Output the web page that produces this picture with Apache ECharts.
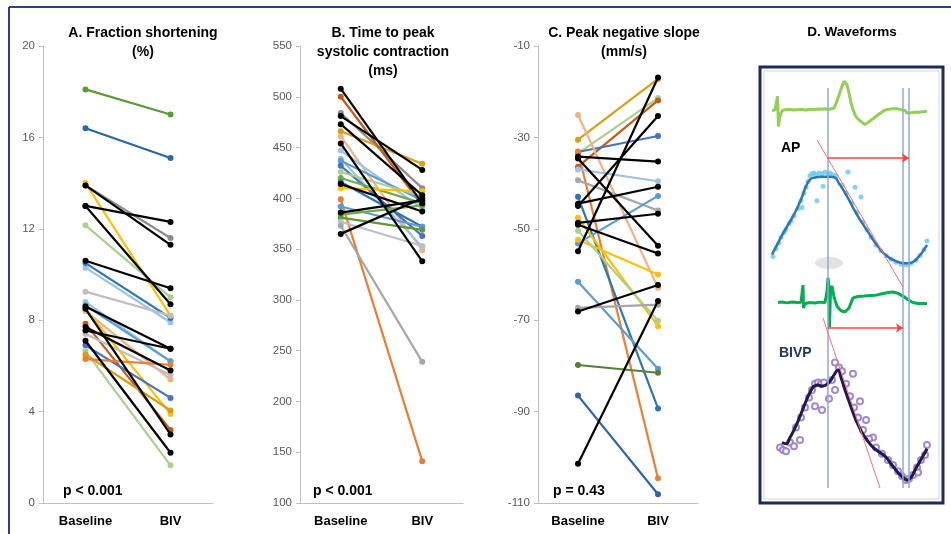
<!DOCTYPE html>
<html>
<head>
<meta charset="utf-8">
<title>Fraction shortening, time to peak, slope, waveforms</title>
<script src="https://cdn.jsdelivr.net/npm/echarts@6/dist/echarts.min.js"></script>
<style>
  html, body { margin: 0; padding: 0; background: #fff; }
  #main { width: 951px; height: 534px; }
</style>
</head>
<body>
<div id="main"></div>
<script>
// ---- data ----
var categories = ['Baseline', 'BIV'];

// A. Fraction shortening (%)
var fsBaseline = [18.1, 16.4, 14.0, 13.9, 13.9, 13.0, 13.0, 12.15, 10.3, 10.6, 10.5, 9.25, 8.8, 8.65, 8.6, 8.4, 8.5, 8.5, 7.85, 7.7, 7.55, 7.4, 7.1, 6.9, 6.65, 6.5, 6.3];
var fsBiv      = [17.0, 15.1, 8.2, 11.6, 11.3, 12.3, 8.7, 9.0, 7.9, 9.4, 8.1, 8.2, 6.2, 6.2, 6.75, 5.4, 3.0, 3.9, 3.2, 5.8, 6.75, 5.6, 2.2, 4.6, 1.65, 4.05, 6.05];

// B. Time to peak systolic contraction (ms)
var ttpBaseline = [508, 484, 481, 473, 466, 461, 454, 500, 447, 439, 437, 432, 426, 420, 416, 414, 410, 399, 392, 386, 365, 384, 381, 377, 373];
var ttpBiv      = [395, 410, 428, 403, 434, 349, 338, 393, 390, 352, 398, 363, 402, 395, 372, 387, 407, 141, 372, 398, 400, 393, 369, 353, 239];

// C. Peak negative slope (mm/s)
var slopeBaseline = [-30.5, -33.5, -36.4, -33.2, -34.2, -25.1, -33.1, -37.0, -39.4, -54.9, -44.5, -45.0, -34.6, -48.7, -49.1, -43.0, -53.2, -47.6, -52.4, -50.4, -61.6, -67.3, -68.1, -79.8, -86.5, -101.4];
var slopeBiv      = [-17.2, -21.4, -21.9, -29.7, -35.3, -62.9, -104.6, -39.6, -46.0, -16.9, -40.8, -25.3, -53.7, -46.7, -55.4, -89.3, -42.8, -71.3, -60.0, -70.1, -80.6, -66.6, -62.3, -81.5, -108.1, -65.8];

// D. Waveforms, time in ms from trace start
var ecgAP = [[0,0.05],[1.5,-0.05],[3,0.08],[4.5,0.0],[5.5,0.9],[6,0.85],[6.5,-0.9],[7.5,-0.4],[9,-0.1],[10.5,0.05],[12,-0.05],[13.5,0.1],[15,0.0],[16.5,0.12],[18,0.02],[19.5,0.1],[21,-0.02],[22.5,0.08],[24,0.0],[25.5,0.1],[27,0.03],[28.5,0.12],[30,0.02],[31.5,0.1],[33,0.0],[34.5,0.08],[36,0.02],[37.5,0.12],[39,0.04],[40.5,0.1],[42,0.02],[43.5,0.12],[45,0.05],[46.5,0.14],[48,0.04],[49.5,0.12],[51,0.06],[52.5,0.15],[54,0.05],[55.5,0.12],[57,0.06],[58.5,0.14],[60,0.1],[62,0.2],[64,0.45],[66,0.8],[68,1.15],[70,1.5],[72,1.8],[73.5,1.9],[75,1.6],[77,1.1],[79,0.5],[81,0.1],[83,-0.2],[85,-0.4],[87,-0.5],[89,-0.62],[91,-0.72],[93,-0.8],[95,-0.7],[97,-0.62],[99,-0.55],[101,-0.45],[103,-0.35],[105,-0.25],[107,-0.2],[109,-0.08],[111,0.0],[113,0.08],[115,0.02],[117,0.12],[119,0.05],[121,0.15],[123,0.08],[125,0.16],[127,0.05],[129,0.1],[131,0.0],[133,0.05],[135,-0.1],[137,0.0],[139,-0.08],[141,0.02],[143,-0.05],[145,0.03],[147,-0.06],[149,0.04],[151,-0.02],[153,0.05],[155,0.0]];
var apTrace = [[0,12],[5,22],[10,32],[15,41],[20,50],[25,60],[30,72],[34,83],[38,90],[42,92],[50,93],[58,93],[63,92],[67,86],[72,78],[77,69],[82,59],[87,50],[92,42],[97,34],[102,26],[107,19],[112,13],[117,9],[122,6],[127,4],[132,3],[137,3],[142,5],[146,9],[150,14],[155,22]];
var apDots = [[1,10],[4,18],[7,24],[9,30],[12,35],[14,38],[17,44],[19,47],[22,52],[26,60],[29,68],[32,76],[34,82],[36,88],[38,94],[40,96],[42,97],[44,95],[47,97],[50,96],[53,98],[56,96],[58,97],[61,95],[64,94],[45,68],[51,83],[30,61],[76,98],[83,82],[89,72],[70,84],[74,76],[80,66],[85,56],[91,46],[95,38],[99,30],[104,22],[109,16],[114,11],[119,7],[124,4],[129,2],[134,1],[139,3],[144,6],[148,11],[152,17],[155,26]];
var ecgBIVP = [[6,0],[10,0.03],[15,-0.02],[20,0.03],[25,0],[29,0.02],[31,0.95],[31.5,-0.3],[33,-0.05],[38,0.0],[43,-0.03],[48,0.02],[53,0.0],[55,0.6],[56,1.35],[57,0.8],[57.5,-1.35],[58.5,0.6],[60,0.9],[62,0.3],[65,-0.2],[69,-0.45],[73,-0.52],[77,-0.3],[81,0.25],[86,0.33],[92,0.35],[98,0.38],[104,0.4],[110,0.48],[116,0.55],[121,0.57],[126,0.5],[131,0.35],[136,0.15],[141,0.0],[146,-0.05],[155,-0.05]];
var bivpTrace = [[10,38],[14,37],[18,42],[22,48],[26,55],[30,63],[34,71],[38,78],[42,83],[46,84],[50,83],[54,84],[58,87],[62,92],[66,96],[69,90],[73,80],[77,71],[81,62],[85,54],[90,46],[95,40],[100,35],[106,31],[113,27],[120,20],[126,14],[131,10],[135,8],[139,10],[143,16],[148,23],[153,30],[155,33]];
var bivpDots = [[8,34],[11,32],[14,31],[18,38],[22,35],[28,40],[24,50],[29,58],[33,66],[37,74],[40,80],[43,85],[46,86],[49,85],[52,86],[43,67],[50,64],[57,73],[60,88],[63,80],[63,102],[67,98],[70,95],[74,85],[81,93],[88,71],[94,56],[101,42],[78,75],[82,66],[86,58],[91,48],[97,41],[104,34],[110,29],[116,24],[121,20],[126,15],[130,11],[134,8],[137,9],[141,12],[145,18],[149,24],[153,28],[155,36],[146,14]];
// markers: onset line and end-of-slope lines (ms)
var markerTimes = [56, 131, 137];

// ---- colours ----
var K = '#000000', DG = '#5B9B35', DB = '#2A66A8', Y = '#FFC000', GR = '#8C8C8C',
    LG = '#A9D18E', LB = '#9DC3E6', SB = '#5B9BD5', B = '#2E75B6', RB = '#4472C4',
    LGR = '#BFBFBF', PE = '#F4B183', BR = '#C55A11', GO = '#D4A017', OR = '#ED7D31', GN = '#70AD47';
var fsColors    = [DG, DB, Y, GR, K, K, K, LG, LB, K, B, LGR, LB, SB, K, PE, K, Y, BR, K, K, LGR, K, RB, LG, GO, OR];
var ttpColors   = [K, GR, K, K, GO, PE, K, BR, LB, LB, SB, RB, LG, GN, B, K, Y, OR, SB, K, K, GN, DG, LGR, '#A6A6A6'];
var slopeColors = [GO, LG, BR, RB, K, PE, OR, LB, '#A6A6A6', K, K, K, K, K, K, B, SB, Y, Y, LG, SB, '#A6A6A6', K, '#548235', DB, K];

var myChart = echarts.init(document.getElementById('main'));
var FONT = 'Liberation Sans';

function pairSeries(base, biv, colors, idx) {
  return base.map(function (b, i) {
    return {
      type: 'line', xAxisIndex: idx, yAxisIndex: idx,
      data: [b, biv[i]],
      symbol: 'circle', symbolSize: 6,
      lineStyle: { width: 2.2, color: colors[i] },
      itemStyle: { color: colors[i] },
      z: colors[i] === K ? 3 : 2
    };
  });
}

function catAxis(idx) {
  return {
    type: 'category', gridIndex: idx, data: categories,
    axisLine: { lineStyle: { color: '#BFBFBF', width: 1 } },
    axisTick: { show: false },
    axisLabel: { color: '#000', fontWeight: 'bold', fontSize: 13, fontFamily: FONT, margin: 12 }
  };
}
function valAxis(idx, min, max, step) {
  return {
    type: 'value', gridIndex: idx, min: min, max: max, interval: step,
    axisLine: { show: true, lineStyle: { color: '#BFBFBF', width: 1 } },
    axisTick: { show: true, length: 4, lineStyle: { color: '#BFBFBF' } },
    splitLine: { show: false },
    axisLabel: { color: '#595959', fontSize: 11.5, fontFamily: FONT, margin: 8 }
  };
}
function hiddenX(idx) { return { type: 'value', gridIndex: idx, min: 0, max: 155, show: false }; }
function hiddenY(idx, min, max, inv) { return { type: 'value', gridIndex: idx, min: min, max: max, show: false, inverse: !!inv }; }

var series = [].concat(
  pairSeries(fsBaseline, fsBiv, fsColors, 0),
  pairSeries(ttpBaseline, ttpBiv, ttpColors, 1),
  pairSeries(slopeBaseline, slopeBiv, slopeColors, 2)
);

// waveforms
series.push(
  { type: 'line', xAxisIndex: 3, yAxisIndex: 3, data: ecgAP, symbol: 'none', lineStyle: { color: '#92D050', width: 3 } },
  { type: 'scatter', xAxisIndex: 4, yAxisIndex: 4, data: apDots, symbolSize: 5, itemStyle: { color: '#6FCBF2', opacity: 0.85 } },
  { type: 'line', xAxisIndex: 4, yAxisIndex: 4, data: apTrace, smooth: true, symbol: 'none', lineStyle: { color: '#2E75B6', width: 2.5 } },
  { type: 'line', xAxisIndex: 5, yAxisIndex: 5, data: ecgBIVP, symbol: 'none', lineStyle: { color: '#00B050', width: 3 } },
  { type: 'scatter', xAxisIndex: 6, yAxisIndex: 6, data: bivpDots, symbol: 'emptyCircle', symbolSize: 6, itemStyle: { color: '#9A7CC8', borderWidth: 1.5, opacity: 0.9 } },
  { type: 'line', xAxisIndex: 6, yAxisIndex: 6, data: bivpTrace, smooth: true, symbol: 'none', lineStyle: { color: '#1F1A4D', width: 3 } },
  {
    type: 'line', xAxisIndex: 7, yAxisIndex: 7, data: [], symbol: 'none',
    markLine: {
      silent: true, animation: false, label: { show: false },
      data: markerTimes.map(function (t) {
        return [{ coord: [t, 21], symbol: 'none', lineStyle: { color: '#8FAADC', width: 1.5, type: 'solid' } },
                { coord: [t, 421], symbol: 'none' }];
      }).concat([
        [{ coord: [45, 73], symbol: 'none', lineStyle: { color: '#FF7070', width: 1, type: 'solid' } }, { coord: [131, 220], symbol: 'none' }],
        [{ coord: [51, 251], symbol: 'none', lineStyle: { color: '#FF7070', width: 1, type: 'solid' } }, { coord: [108, 421], symbol: 'none' }],
        [{ coord: [56, 91], symbol: 'none', lineStyle: { color: '#FF4040', width: 1.5, type: 'solid' } }, { coord: [137, 91], symbol: 'arrow', symbolSize: 7 }],
        [{ coord: [56, 261], symbol: 'none', lineStyle: { color: '#FF4040', width: 1.5, type: 'solid' } }, { coord: [131, 261], symbol: 'arrow', symbolSize: 7 }]
      ])
    }
  }
);

var titleFont = 'bold 14px "Liberation Sans"';
function txt(x, y, s, opts) {
  opts = opts || {};
  return {
    type: 'text', x: x, y: y, z: 10, silent: true,
    style: {
      text: s, fill: opts.fill || '#000', textAlign: opts.align || 'center', textVerticalAlign: 'middle',
      font: opts.font || titleFont, lineHeight: 19
    }
  };
}

var option = {
  animation: false,
  backgroundColor: '#fff',
  grid: [
    { left: 43, top: 46, width: 170, height: 457, outerBoundsMode: 'none' },
    { left: 300, top: 46, width: 163, height: 457, outerBoundsMode: 'none' },
    { left: 538, top: 46, width: 160, height: 457, outerBoundsMode: 'none' },
    { left: 772, top: 78, width: 155, height: 50, outerBoundsMode: 'none' },
    { left: 772, top: 170, width: 155, height: 98, outerBoundsMode: 'none' },
    { left: 772, top: 275, width: 155, height: 55, outerBoundsMode: 'none' },
    { left: 772, top: 360, width: 155, height: 135, outerBoundsMode: 'none' },
    { left: 772, top: 67, width: 155, height: 436, outerBoundsMode: 'none' }
  ],
  xAxis: [catAxis(0), catAxis(1), catAxis(2), hiddenX(3), hiddenX(4), hiddenX(5), hiddenX(6), hiddenX(7)],
  yAxis: [
    valAxis(0, 0, 20, 4), valAxis(1, 100, 550, 50), valAxis(2, -110, -10, 20),
    hiddenY(3, -1, 2), hiddenY(4, -2, 100), hiddenY(5, -1.5, 1.5), hiddenY(6, -4, 104), hiddenY(7, 0, 436, true)
  ],
  series: series,
  graphic: [
    // picture frame
    { type: 'line', shape: { x1: 9, y1: 7, x2: 951, y2: 7 }, style: { stroke: '#2F3F7F', lineWidth: 2 } },
    { type: 'line', shape: { x1: 9, y1: 7, x2: 9, y2: 534 }, style: { stroke: '#2F3F7F', lineWidth: 2 } },
    // waveform box
    { type: 'rect', shape: { x: 760, y: 67, width: 183, height: 436 }, style: { fill: 'none', stroke: '#1F2A5C', lineWidth: 3 } },
    { type: 'rect', shape: { x: 764, y: 71, width: 175, height: 428 }, style: { fill: 'none', stroke: '#C9D6EE', lineWidth: 1 } },
    // smudge
    { type: 'ellipse', shape: { cx: 829, cy: 263, rx: 14, ry: 6 }, style: { fill: 'rgba(120,120,120,0.18)', shadowBlur: 8, shadowColor: 'rgba(120,120,120,0.3)' } },
    txt(143, 43, 'A. Fraction shortening\n(%)'),
    txt(383, 52, 'B. Time to peak\nsystolic contraction\n(ms)'),
    txt(624, 43, 'C. Peak negative slope\n(mm/s)'),
    txt(852, 32, 'D. Waveforms', { font: 'bold 13.5px "Liberation Sans"' }),
    txt(63, 491, 'p < 0.001', { align: 'left', font: 'bold 14px "Liberation Sans"' }),
    txt(313, 491, 'p < 0.001', { align: 'left', font: 'bold 14px "Liberation Sans"' }),
    txt(553, 491, 'p = 0.43', { align: 'left', font: 'bold 14px "Liberation Sans"' }),
    txt(781, 148, 'AP', { align: 'left', font: 'bold 14px "Liberation Sans"' }),
    txt(779, 353, 'BIVP', { align: 'left', font: 'bold 14px "Liberation Sans"', fill: '#1F3864' })
  ]
};
myChart.setOption(option);
</script>
</body>
</html>
